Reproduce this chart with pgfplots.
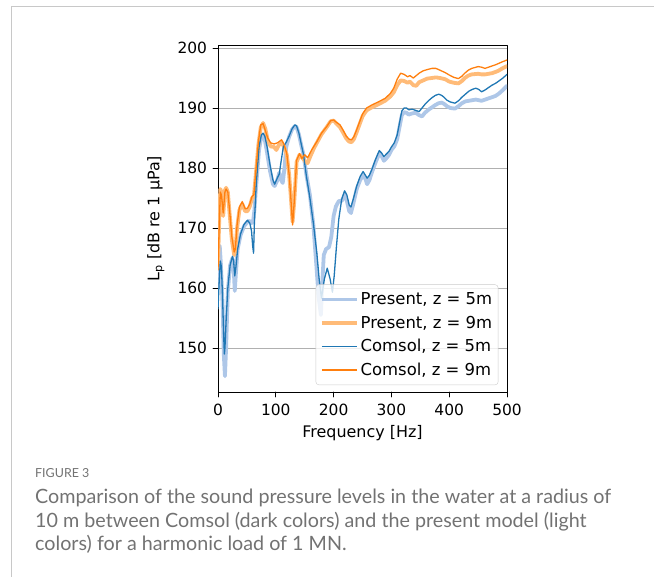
\documentclass[border=0pt]{standalone}
\usepackage{fontspec}
\setmainfont{DejaVu Sans}
\newfontfamily\capfont{Lato}
\usepackage{pgfplots}
\pgfplotsset{compat=1.18}
\definecolor{c5}{HTML}{1F77B4}
\definecolor{c9}{HTML}{FF7F0E}
\definecolor{p5}{HTML}{AEC7E8}
\definecolor{p9}{HTML}{FFBB78}
\definecolor{gridc}{HTML}{B0B0B0}
\definecolor{capc}{HTML}{727272}
\definecolor{framec}{HTML}{C8C8C8}
\begin{document}
\begin{tikzpicture}[x=1bp,y=1bp]
\path[use as bounding box] (0,0) rectangle (654,577);
\draw[framec, line width=1.2bp] (11.5,0) -- (11.5,570.5) -- (654,570.5);
\begin{axis}[
  at={(218bp,185bp)}, anchor=south west, scale only axis,
  width=289bp, height=347bp,
  xmin=0, xmax=500, ymin=142.67, ymax=200.5,
  xtick={0,100,...,500}, ytick={150,160,...,200},
  xtick pos=bottom, ytick pos=left,
  tick align=outside, major tick length=5bp,
  tick style={black, line width=0.8bp},
  axis line style={line width=0.8bp},
  ymajorgrids, grid style={gridc, line width=0.8bp},
  tick label style={font=\fontsize{15.5}{18}\selectfont},
  yticklabel style={xshift=-2.5bp},
  xticklabel style={yshift=-3.5bp},
  /pgf/number format/assume math mode=true,
  xlabel={Frequency [Hz]}, ylabel={L\textsubscript{p} [dB re 1 μPa]},
  label style={font=\fontsize{16}{19}\selectfont},
  xlabel style={at={(axis description cs:0.5,-0.118)}, anchor=center},
  ylabel style={at={(axis description cs:-0.215,0.5)}, anchor=center},
  legend style={at={(0.97,0.02)}, anchor=south east, draw=black!20,
    rounded corners=3bp, fill=white, fill opacity=0.8, text opacity=1,
    font=\fontsize{16.5}{20}\selectfont, row sep=5.7bp, inner xsep=4bp, inner ysep=6bp,
    /tikz/every even column/.append style={column sep=9bp}},
  legend cell align=left,
  legend image code/.code={\draw[#1] (0bp,0bp) -- (35bp,0bp);},
  line join=round, line cap=round,
]
\addplot[p5, line width=3.8bp] coordinates {(0,160) (1,166.5) (3,167) (5,164) (8,157) (10,149) (12,145.3) (14,150) (17,159.5) (21,163.8) (25,165) (27,163.5) (29,159.5) (31,162.5) (34,166.5) (39,168.8) (45,170.3) (51,171) (55,171.2) (58,170.8) (61,171.3) (63,173) (66,177) (71,183) (75,185.3) (78,185.6) (81,184.7) (85,182.5) (90,179.5) (95,177.3) (98,177) (102,177.8) (106,179.2) (109,178) (112,177.5) (115,180) (118,183.5) (123,185.2) (128,186.4) (133,187) (136,186.8) (140,185.6) (144,183.8) (148,182.2) (153,178.8) (159,175.5) (165,170.5) (170,164) (174,158.5) (178,155.5) (180,160) (183,165.5) (187,166.5) (192,166.8) (196,168.5) (200,172) (204,173.6) (209,174.5) (214,174.5) (219,175.5) (223,174.5) (227,172.8) (230,172.5) (234,174) (240,176.5) (246,178) (251,178.8) (255,178.2) (258,177.3) (262,178) (266,179.2) (272,180.8) (279,182.4) (283,182) (287,181.2) (291,181.6) (296,182.2) (300,183) (305,183.6) (310,184.8) (314,186.8) (318,188.8) (322,189.3) (326,189.2) (330,188.9) (336,189.1) (342,189.2) (348,188.8) (353,188.6) (358,189.2) (364,189.7) (370,190.1) (376,190.5) (382,190.8) (387,190.9) (391,190.7) (396,190.3) (402,190) (410,189.9) (416,190.3) (422,190.8) (428,191.1) (434,191.2) (440,191.3) (446,191.4) (451,191.3) (456,191.2) (462,191.4) (468,191.6) (474,191.8) (480,192) (486,192.4) (493,193) (500,193.7)};
\addlegendentry{Present, z = 5m}
\addplot[p9, line width=3.8bp] coordinates {(0,164) (2,171) (4,176.5) (6,176) (9,172) (12,176.3) (14,176.7) (17,176) (20,172.5) (24,168) (28,165.5) (30,166.2) (33,170) (37,173) (42,174) (47,172.8) (51,172.8) (55,173.6) (59,175) (62,175.2) (65,178.5) (70,184) (74,186.8) (78,187.5) (82,186.5) (86,184.6) (91,183.6) (97,183.5) (101,183) (105,183.8) (110,184.2) (114,183.6) (119,182.2) (123,179) (126,175.2) (129,171) (132,174.5) (136,181) (141,182.2) (145,181.8) (150,181.2) (155,180.8) (160,182) (166,183.3) (171,184.2) (179,185.6) (188,186.8) (195,187.8) (200,187.9) (205,187.4) (211,186.8) (217,185.8) (222,184.9) (227,184.4) (231,184.3) (235,184.8) (240,186) (245,187.3) (250,188.6) (257,189.6) (266,190.1) (277,190.6) (289,191.2) (298,191.9) (304,192.6) (310,193.8) (316,194.6) (322,194.5) (328,194.2) (332,194.4) (338,193.8) (343,193.7) (348,194.3) (355,194.6) (362,194.9) (370,195) (377,195.1) (384,195) (393,194.8) (400,194.4) (408,194.2) (416,194.1) (422,194.5) (427,195) (433,195.4) (439,195.6) (450,195.7) (456,195.6) (462,195.6) (468,195.7) (474,195.8) (480,196) (485,196.2) (492,196.6) (500,197)};
\addlegendentry{Present, z = 9m}
\addplot[c5, line width=1.3bp] coordinates {(0,156.5) (2,161) (4,164.5) (6,163.5) (8,158) (10,151.5) (11,149) (12,150) (14,154.5) (17,160) (21,163.8) (25,165.3) (27,164.5) (29,162) (31,163.5) (34,166.5) (39,169) (45,170.6) (51,171.3) (55,170.8) (58,169.5) (60,167) (61.5,165.8) (63,171) (66,177) (71,183.5) (75,185.5) (78,185.8) (81,185.3) (85,183.5) (90,180.5) (95,178) (98,177.3) (102,178.2) (106,179) (109,181) (113,183.5) (118,184.3) (123,185.3) (128,186.5) (133,187.2) (136,187) (140,185.8) (144,184) (148,182.2) (153,178.6) (159,175) (165,170.8) (171,165.8) (175,161.5) (179,158.3) (184,161.5) (189,163.3) (194,161.5) (198,159.3) (201,162) (205,167) (209,171.5) (214,174.8) (219,176.2) (223,175.5) (227,173.8) (230,173.5) (234,174.8) (240,177) (246,178.6) (251,179.4) (255,178.8) (258,178.3) (262,178.8) (266,179.7) (272,181.3) (279,182.9) (283,182.5) (287,181.9) (291,182.3) (296,182.8) (300,183.5) (305,184.2) (310,185.5) (314,187.5) (318,189.5) (322,190) (326,190) (330,189.7) (336,189.8) (342,189.6) (348,189.4) (353,190) (358,190.6) (364,191.2) (370,191.7) (376,192.1) (382,192.3) (387,192.1) (391,191.8) (396,191.3) (402,191) (410,190.8) (416,191.2) (422,191.8) (428,192.3) (434,192.8) (440,193.1) (446,193.3) (451,193.1) (456,192.7) (462,193) (468,193.4) (474,193.8) (480,194.1) (486,194.5) (493,195) (500,195.6)};
\addlegendentry{Comsol, z = 5m}
\addplot[c9, line width=1.3bp] coordinates {(0,163) (2,170) (4,176) (6,175.5) (9,172.5) (12,176) (14,176.5) (17,176) (20,173) (24,168.5) (28,166) (30,166.5) (33,170.5) (37,173.5) (42,174.4) (47,173.2) (51,173.3) (55,174) (59,175.3) (62,175.5) (65,179) (70,184.5) (74,187.2) (78,187.4) (82,186.2) (86,185) (91,184.2) (97,184) (103,184.2) (110,184.7) (114,184) (119,182.4) (123,179) (126,175) (129,170.5) (132,174.5) (136,181.3) (141,182.4) (145,181.6) (150,182.2) (155,181.7) (162,183) (171,184.4) (179,185.8) (188,186.9) (195,187.9) (200,188) (205,187.6) (211,187.2) (217,186.2) (222,185.3) (227,184.8) (231,184.7) (235,185.2) (240,186.4) (245,187.7) (250,189) (257,190) (266,190.5) (277,191) (289,191.6) (298,192.4) (304,193.3) (310,194.8) (316,195.8) (322,195.6) (328,195.2) (332,195.4) (338,195) (343,195.4) (348,195.8) (355,196.2) (362,196.4) (370,196.6) (377,196.6) (384,196.3) (393,195.9) (400,195.5) (408,195.1) (416,194.9) (422,195.3) (427,195.8) (433,196.3) (439,196.6) (450,196.9) (456,196.8) (462,196.6) (468,196.8) (474,197) (480,197.2) (485,197.4) (492,197.7) (500,198)};
\addlegendentry{Comsol, z = 9m}
\end{axis}
\node[anchor=base west, capc, font=\capfont\fontsize{12.5}{15}\selectfont, inner sep=0] at (35,99) {FIGURE 3};
\node[anchor=base west, capc, font=\capfont\fontsize{19.8}{23}\selectfont, inner sep=0] at (35,73) {Comparison of the sound pressure levels in the water at a radius of};
\node[anchor=base west, capc, font=\capfont\fontsize{19.8}{23}\selectfont, inner sep=0] at (35,49.7) {10 m between Comsol (dark colors) and the present model (light};
\node[anchor=base west, capc, font=\capfont\fontsize{19.8}{23}\selectfont, inner sep=0] at (35,26.3) {colors) for a harmonic load of 1 MN.};
\end{tikzpicture}
\end{document}
